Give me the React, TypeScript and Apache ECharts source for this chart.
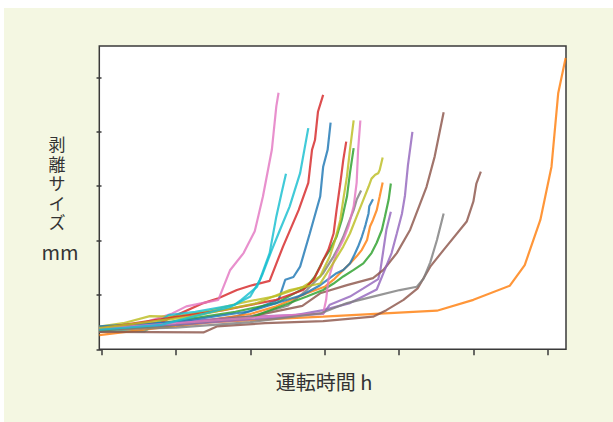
import { useEffect, useRef } from "react";
import * as echarts from "echarts";

const xTicks = [0, 10, 20, 30, 40, 50, 60];
const yTicks = [0, 1, 2, 3, 4, 5];
const xLabel = "運転時間 h";
const yLabelChars = ["剥", "離", "サ", "イ", "ズ"];
const yUnit = "mm";

const blueA = [[-0.3, 0.38], [10, 0.45], [18, 0.6], [23.8, 0.91], [24.7, 1.28], [25.8, 1.33], [26.7, 1.52], [28.0, 2.13], [29.4, 2.81], [29.8, 3.36], [30.4, 3.67], [30.8, 4.17]];
const orangeA = [[-0.3, 0.32], [10, 0.45], [20, 0.65], [23.5, 0.79], [27.6, 1.03], [30.0, 1.15], [31.2, 1.28], [32.5, 1.46], [33.4, 1.58], [34.3, 1.71], [35.0, 1.83], [35.7, 2.01], [36.1, 2.26], [36.5, 2.38], [37.0, 2.56], [37.4, 2.81], [37.8, 3.07]];
const greenA = [[-0.3, 0.36], [9, 0.5], [18, 0.69], [23.5, 0.85], [27.6, 1.15], [28.7, 1.34], [29.8, 1.64], [30.7, 1.83], [31.6, 2.07], [32.3, 2.38], [33.0, 2.81], [33.4, 3.24], [33.9, 3.7]];
const redA = [[-0.3, 0.33], [8, 0.5], [13.7, 0.85], [15.7, 0.94], [18.2, 1.09], [20.0, 1.17], [22.6, 1.26], [24.4, 1.89], [26.5, 2.56], [27.8, 3.06], [28.3, 3.67], [28.7, 3.85], [29.1, 4.37], [29.8, 4.68]];
const purpleA = [[-0.3, 0.4], [10, 0.5], [20, 0.6], [29.8, 0.65], [30.7, 0.82], [33.4, 0.97], [35.2, 1.12], [37.2, 1.29], [37.5, 1.46], [37.9, 1.83], [38.3, 2.2], [38.9, 2.53]];
const brownA = [[-0.3, 0.36], [10, 0.45], [20, 0.6], [27, 0.8], [29.4, 1.03], [33.0, 1.18], [36.5, 1.31], [37.9, 1.46], [39.7, 1.77], [41.5, 2.2], [43.7, 2.99], [44.8, 3.55], [46.0, 4.36]];
const pinkA = [[-0.3, 0.36], [6, 0.5], [9.5, 0.66], [11.4, 0.79], [15.7, 0.91], [17.3, 1.46], [19.1, 1.77], [20.6, 2.17], [21.7, 2.81], [22.9, 3.67], [23.5, 4.47], [23.8, 4.72]];
const grayA = [[-0.3, 0.4], [10, 0.45], [20, 0.6], [25, 0.8], [27.6, 1.09], [29.8, 1.4], [31.2, 1.71], [31.9, 1.89], [32.5, 2.07], [33.2, 2.32], [33.9, 2.56], [34.3, 2.75], [34.9, 2.92]];
const oliveA = [[-0.3, 0.42], [2.9, 0.48], [6.5, 0.61], [9.6, 0.6], [14, 0.69], [18.6, 0.85], [23.5, 0.98], [27.1, 1.15], [29.4, 1.34], [29.8, 1.46], [30.7, 1.71], [31.4, 2.01], [32.1, 2.38], [32.5, 2.75], [33.0, 3.18], [33.4, 3.67], [33.9, 4.21]];
const cyanA = [[-0.3, 0.33], [5.8, 0.33], [9.0, 0.63], [12.6, 0.69], [17.9, 0.82], [18.8, 0.91], [20.9, 1.15], [21.7, 1.4], [22.9, 1.83], [24.0, 2.2], [25.3, 2.63], [26.7, 3.24], [27.8, 4.07]];

const blueB = [[-0.3, 0.42], [10, 0.5], [20, 0.7], [27, 1.0], [29.4, 1.18], [31.6, 1.4], [32.5, 1.46], [33.4, 1.58], [33.9, 1.71], [34.5, 1.89], [35.0, 2.07], [35.3, 2.2], [35.5, 2.29], [35.9, 2.5], [36.0, 2.63], [36.5, 2.76]];
const orangeB = [[-0.3, 0.26], [8, 0.4], [15, 0.5], [22, 0.55], [29.8, 0.6], [45.1, 0.71], [50.0, 0.91], [54.9, 1.17], [56.9, 1.55], [59.0, 2.38], [60.5, 3.36], [61.4, 4.71], [62.4, 5.36]];
const greenB = [[-0.3, 0.35], [10, 0.45], [20, 0.58], [27.6, 0.97], [29.8, 1.09], [31.2, 1.21], [32.5, 1.34], [33.9, 1.46], [35.2, 1.58], [36.3, 1.77], [37.0, 1.96], [37.7, 2.2], [38.1, 2.44], [38.6, 2.75], [38.9, 3.05]];
const redB = [[-0.3, 0.38], [7.4, 0.54], [16.4, 0.72], [23.5, 0.91], [27.1, 1.09], [28.5, 1.28], [29.4, 1.52], [29.8, 1.64], [30.5, 1.83], [31.2, 2.13], [31.6, 2.56], [32.1, 3.05], [32.5, 3.48], [32.9, 3.82]];
const purpleB = [[-0.3, 0.38], [10, 0.45], [25, 0.6], [29.8, 0.72], [33.4, 0.85], [37.0, 1.1], [37.9, 1.4], [39.0, 1.77], [39.7, 2.13], [40.4, 2.5], [40.8, 2.83], [41.2, 3.39], [41.8, 4.0]];
const brownB = [[-0.3, 0.32], [13.7, 0.31], [15.5, 0.42], [22, 0.48], [29.8, 0.52], [36.5, 0.6], [38.3, 0.72], [40.6, 0.91], [42.5, 1.12], [44.2, 1.52], [46.0, 1.83], [49.1, 2.35], [50.0, 2.72], [50.4, 3.05], [51.0, 3.27]];
const pinkB = [[-0.3, 0.38], [12, 0.5], [22, 0.6], [29.8, 0.66], [30.2, 0.91], [30.5, 1.28], [31.0, 1.52], [31.6, 1.77], [32.5, 2.01], [33.2, 2.26], [33.9, 2.63], [34.3, 3.06], [34.5, 3.67], [34.8, 4.21]];
const grayB = [[-0.3, 0.36], [10, 0.4], [20, 0.5], [29.4, 0.66], [33.0, 0.85], [36.5, 0.97], [40.1, 1.09], [42.4, 1.15], [43.3, 1.3], [44.2, 1.6], [45.1, 2.01], [46.0, 2.5]];
const oliveB = [[-0.3, 0.39], [12, 0.6], [20.9, 0.85], [25.3, 1.09], [29.4, 1.21], [30.3, 1.4], [31.4, 1.64], [32.5, 1.89], [33.4, 2.13], [34.3, 2.44], [35.2, 2.75], [35.9, 2.99], [36.3, 3.14], [36.8, 3.21], [37.2, 3.24], [37.4, 3.3], [37.8, 3.53]];
const cyanB = [[-0.3, 0.36], [8, 0.45], [14, 0.66], [17.3, 0.78], [20.0, 0.97], [21.3, 1.28], [22.6, 1.77], [23.5, 2.44], [24.2, 2.87], [24.8, 3.23]];

const palette = ["#1f77b4", "#ff7f0e", "#2ca02c", "#d62728", "#9467bd", "#8c564b", "#e377c2", "#7f7f7f", "#bcbd22", "#17becf"];
const seriesData = [
  blueA, orangeA, greenA, redA, purpleA, brownA, pinkA, grayA, oliveA, cyanA,
  blueB, orangeB, greenB, redB, purpleB, brownB, pinkB, grayB, oliveB, cyanB,
];

const FONT = '"Noto Sans CJK JP", "Noto Sans", sans-serif';

export default function App() {
  const ref = useRef<HTMLDivElement>(null);
  useEffect(() => {
    if (!ref.current) return;
    const chart = echarts.init(ref.current, null, { renderer: "svg" });
    const axisColor = "#3a3a3a";
    const yCenters = [135.5, 155.1, 174.7, 194.3, 213.9];
    chart.setOption({
      animation: false,
      backgroundColor: "#f4f7e2",
      grid: {
        left: 95.3,
        top: 38,
        width: 466.7,
        height: 303.3,
        show: true,
        backgroundColor: "#ffffff",
        borderColor: axisColor,
        borderWidth: 1.5,
        outerBoundsMode: "none",
      },
      xAxis: {
        type: "value",
        min: -0.3,
        max: 62.45,
        axisLine: { show: false },
        axisLabel: { show: false },
        splitLine: { show: false },
        axisTick: { show: true, length: 6, lineStyle: { color: axisColor, width: 1.5 }, customValues: xTicks },
      },
      yAxis: {
        type: "value",
        min: 0,
        max: 5.58,
        axisLine: { show: false },
        axisLabel: { show: false },
        splitLine: { show: false },
        axisTick: { show: true, length: 5, lineStyle: { color: axisColor, width: 1.5 }, customValues: yTicks },
      },
      series: seriesData.map((d, i) => ({
        type: "line",
        data: d,
        symbol: "none",
        lineStyle: { color: palette[i % 10], width: 2.2, opacity: 0.82 },
        itemStyle: { color: palette[i % 10] },
      })),
      graphic: [
        {
          type: "text",
          x: 320,
          y: 373,
          style: { text: xLabel, fontSize: 20, fontFamily: FONT, fill: "#333", align: "center", verticalAlign: "middle" },
        },
        ...yLabelChars.map((c, i) => ({
          type: "text",
          x: 53,
          y: yCenters[i],
          style: { text: c, fontSize: 17, fontFamily: FONT, fill: "#333", align: "center", verticalAlign: "middle" },
        })),
        {
          type: "text",
          x: 56,
          y: 243,
          style: { text: yUnit, fontSize: 20, fontFamily: FONT, fill: "#333", align: "center", verticalAlign: "middle" },
        },
      ],
    });
    return () => chart.dispose();
  }, []);
  return (
    <div style={{ position: "fixed", left: 0, top: 0, width: 613, height: 422, background: "#ffffff" }}>
      <div ref={ref} style={{ position: "absolute", left: 4, top: 8, width: 609, height: 414 }} />
    </div>
  );
}
